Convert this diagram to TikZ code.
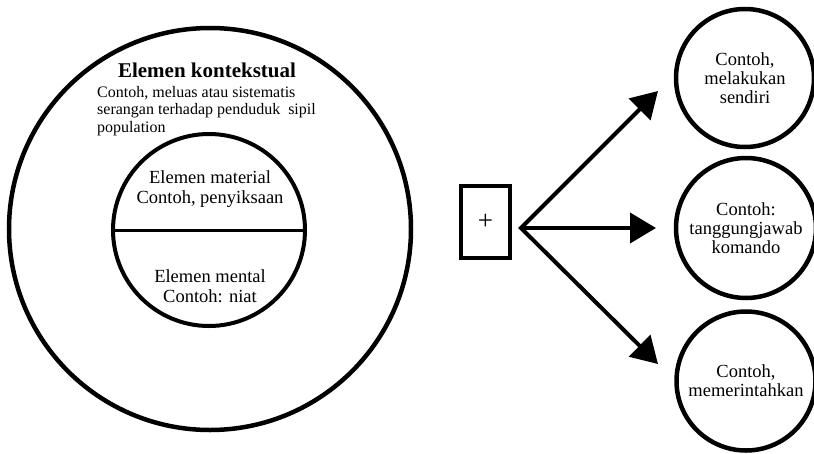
\documentclass[tikz,border=0pt]{standalone}
\usepackage{fontspec}
\setmainfont{Liberation Serif}
\usetikzlibrary{arrows.meta}
\begin{document}
\begin{tikzpicture}[x=1pt,y=-1pt,
  ring/.style={circle, draw, line width=4.5pt, inner sep=0pt, outer sep=0pt},
  rtext/.style={font=\fontsize{18.5}{19}\selectfont, align=center},
  arr/.style={line width=4pt, -{Triangle[length=26pt,width=30pt]}},
]
\useasboundingbox (0,0) rectangle (814,453);
% left diagram
\node[ring, minimum size=402pt] (outer) at (210,229) {};
\node[ring, line width=4pt, minimum size=192pt] (inner) at (209,230) {};
\draw[line width=3pt] (inner.west) -- (inner.east);
\node[font=\fontsize{21}{24}\selectfont\bfseries, anchor=base, inner sep=0pt] (title) at (207,77) {Elemen kontekstual};
\node[font=\fontsize{16}{17.5}\selectfont, align=left, anchor=base west, inner sep=0pt] (ctx) at (97,132) {Contoh, meluas atau sistematis\\serangan terhadap penduduk\ \ sipil\\population};
\node[font=\fontsize{18.5}{20}\selectfont, align=center, anchor=base, inner sep=0pt] (mat) at (210,203) {Elemen material\\Contoh, penyiksaan};
\node[font=\fontsize{18.5}{19.5}\selectfont, align=center, anchor=base, inner sep=0pt] (men) at (210,302) {Elemen mental\\Contoh: niat};
% plus box
\node[draw, line width=3.5pt, minimum width=49pt, minimum height=72pt, inner sep=0pt, font=\fontsize{27}{27}\selectfont] (plus) at (485.5,222) {+};
% right circles
\node[ring, minimum size=138pt, rtext] (c1) at (745,78) {Contoh,\\melakukan\\sendiri};
\node[ring, minimum size=140pt, rtext] (c2) at (746,228) {Contoh:\\tanggungjawab\\komando};
\node[ring, minimum size=139pt, rtext] (c3) at (746,381) {Contoh,\\memerintahkan};
% arrows
\coordinate (o) at (521,228);
\coordinate (t1) at (658,91);
\coordinate (t2) at (656,228);
\coordinate (t3) at (658,364);
\draw[line width=4pt, line join=miter, {Triangle[length=26pt,width=30pt]}-{Triangle[length=26pt,width=30pt]}] (t1) -- (o) -- (t3);
\draw[arr] (o) -- (t2);
\end{tikzpicture}
\end{document}
